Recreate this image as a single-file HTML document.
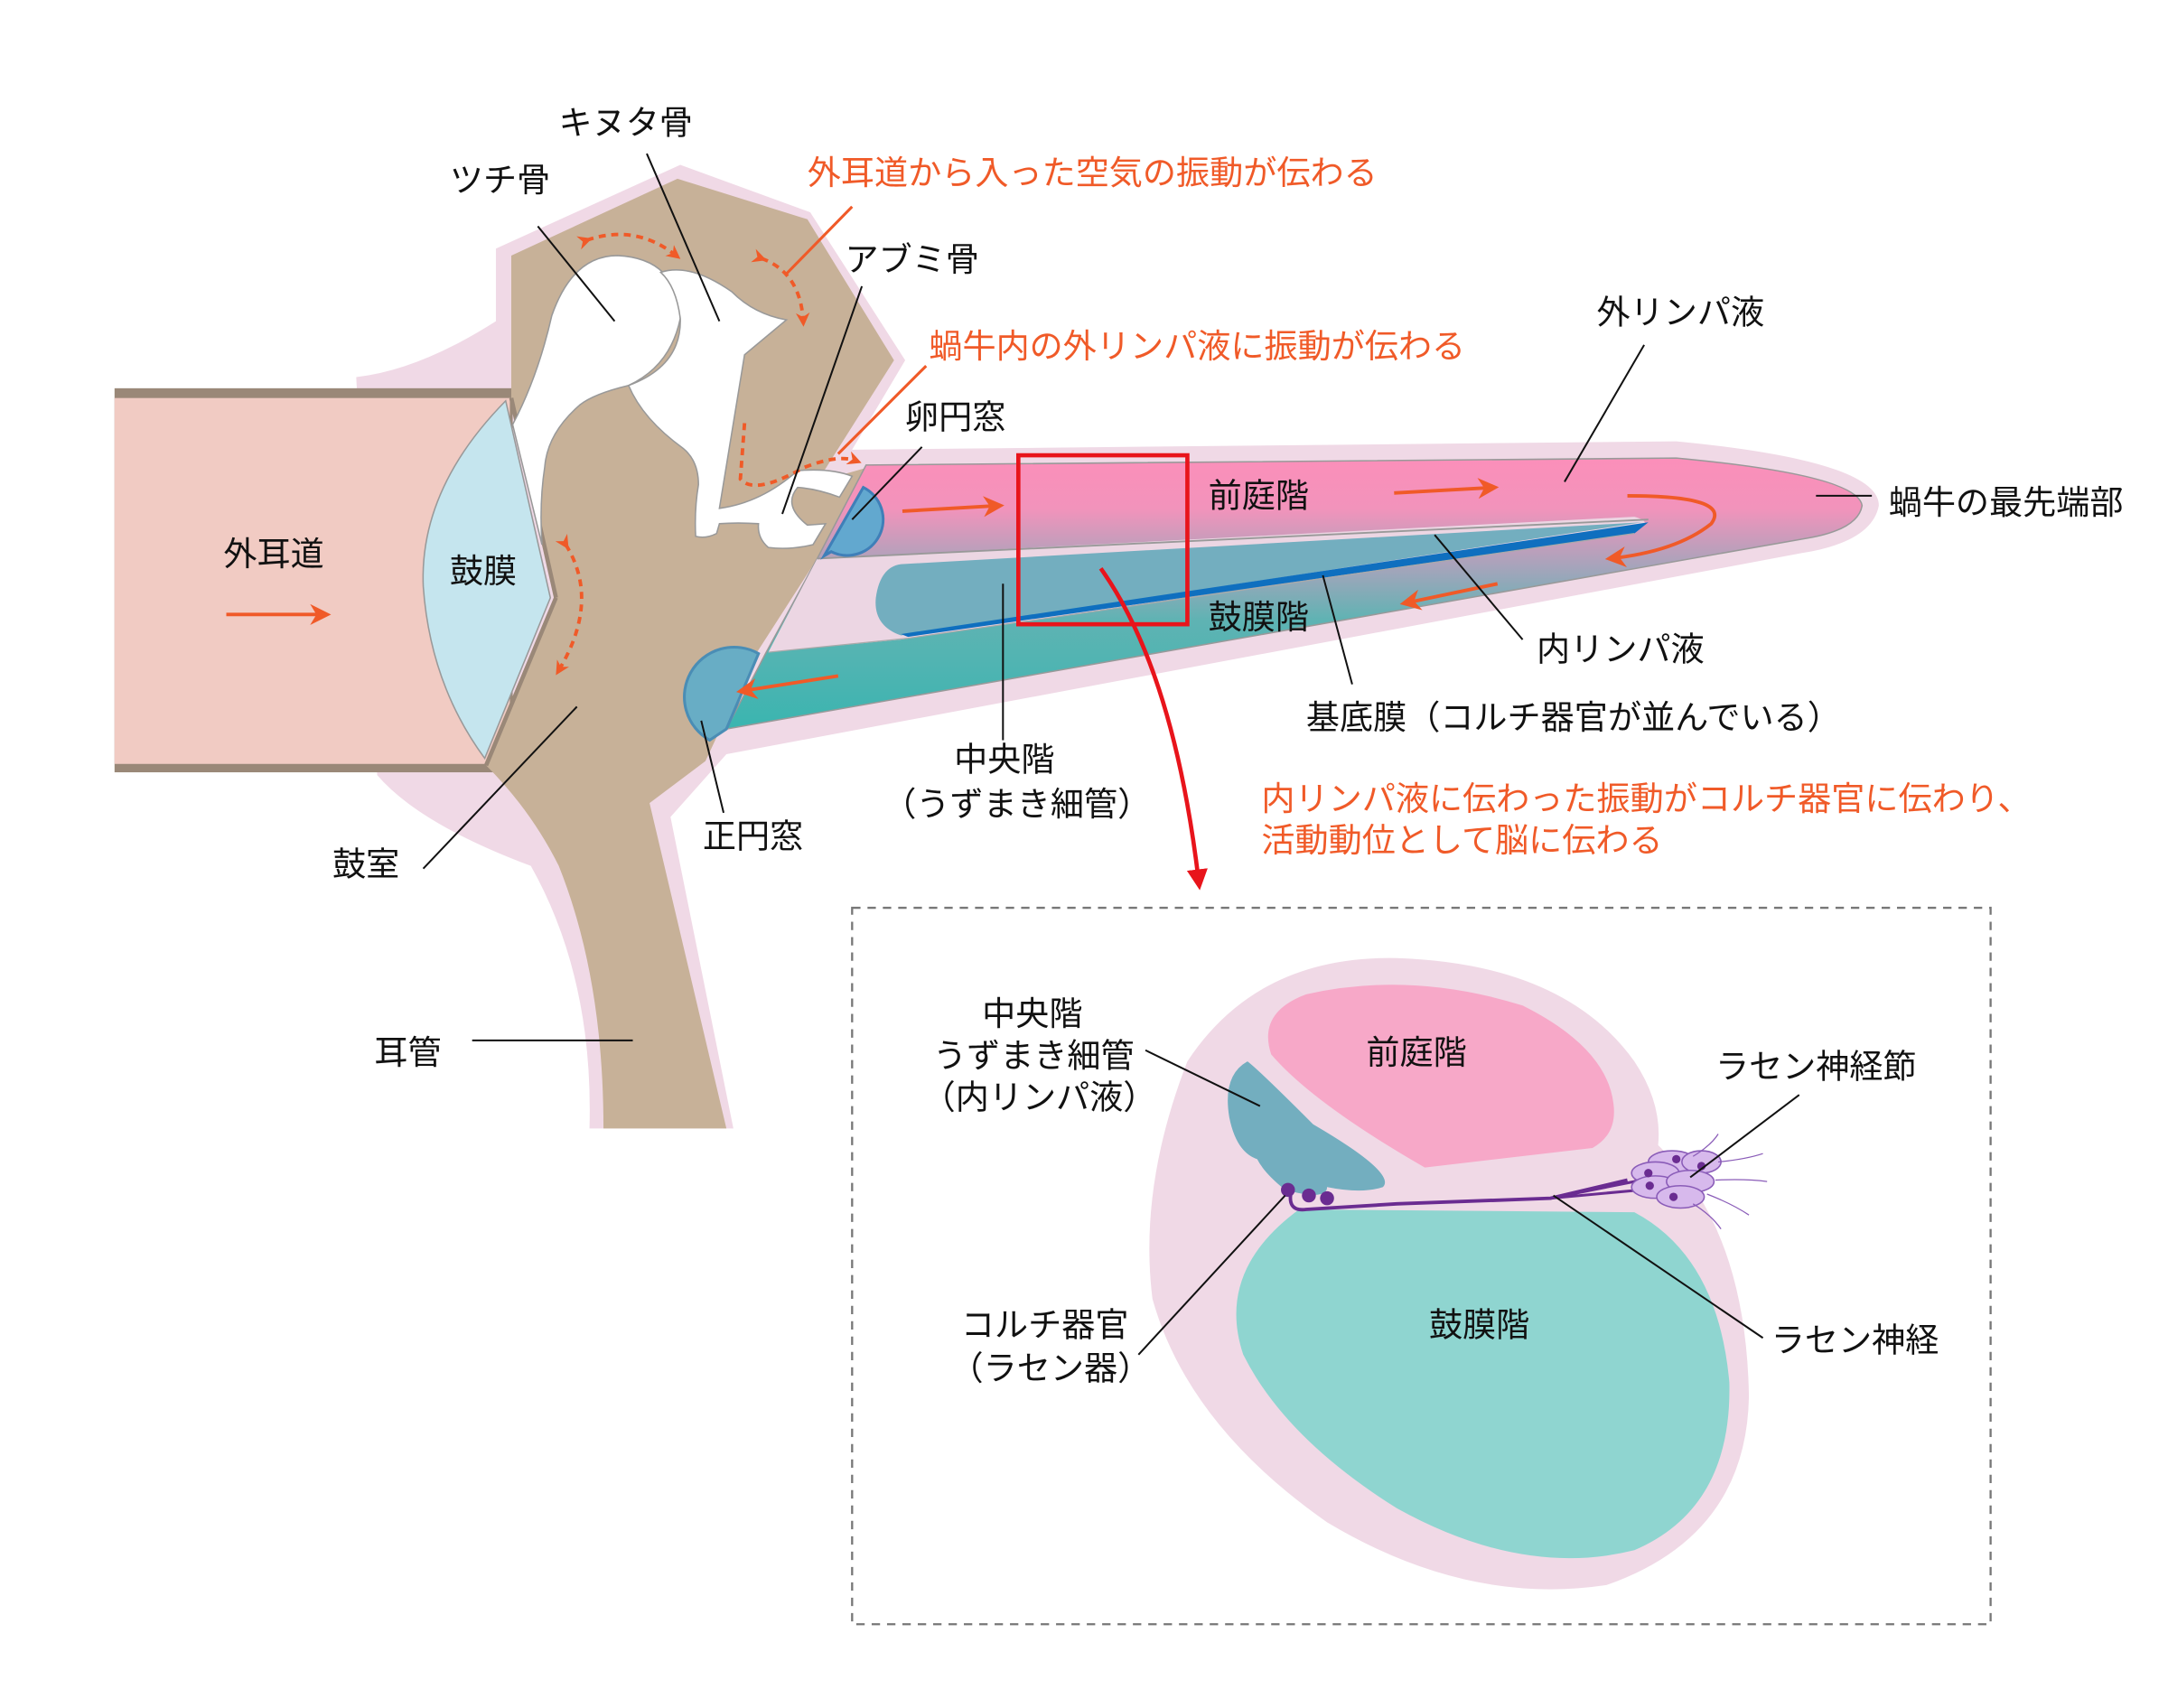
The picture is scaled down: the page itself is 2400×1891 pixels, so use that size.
<!DOCTYPE html>
<html><head><meta charset="utf-8"><style>
html,body{margin:0;padding:0;background:#fff}
svg{display:block}
text{font-family:"Liberation Sans","Noto Sans CJK JP",sans-serif;font-size:24px;fill:#111}
.o{fill:#f05a28}
</style></head><body>
<svg width="2400" height="1891" viewBox="0 0 1552 1223" preserveAspectRatio="none" xmlns="http://www.w3.org/2000/svg">
<defs>
<linearGradient id="lg" x1="0" y1="330" x2="0" y2="520" gradientUnits="userSpaceOnUse">
<stop offset="0" stop-color="#fb8fba"/><stop offset="0.18" stop-color="#f293bb"/>
<stop offset="0.4" stop-color="#a6a4bb"/><stop offset="0.6" stop-color="#5fb3b3"/>
<stop offset="1" stop-color="#3bb5b0"/></linearGradient>
<marker id="ah" viewBox="0 0 10 10" refX="8" refY="5" markerWidth="6" markerHeight="6" orient="auto"><path d="M0,0 L10,5 L0,10 L3,5Z" fill="#f05a28"/></marker>
<marker id="ahs" viewBox="0 0 10 10" refX="6" refY="5" markerWidth="4" markerHeight="4" orient="auto"><path d="M0,0 L10,5 L0,10 L3,5Z" fill="#f05a28"/></marker>
<marker id="ahr" viewBox="0 0 10 10" refX="5" refY="5" markerWidth="5" markerHeight="5" orient="auto"><path d="M0,0 L10,5 L0,10 Z" fill="#e8141b"/></marker>
</defs>

<path d="M255,270 Q300,265 355,230 L355,178 L487,118 L580,152 L648,258 L610,322 L1200,316 Q1345,330 1345,362 Q1340,388 1290,396 L520,540 L480,585 L525,808 L422,808 Q425,700 380,620 Q300,590 270,555 Z" fill="#f0d9e6"/>

<rect x="82" y="278" width="285" height="275" fill="#9a8878"/>
<rect x="82" y="285" width="283" height="262" fill="#f1cbc3"/>

<path d="M366,183 L485,128 L578,157 L640,258 L585,345 L620,335 L585,400 L540,470 L505,545 L465,575 L520,808 L432,808 Q432,700 400,620 Q380,580 348,548 L398,428 L366,285 Z" fill="#c7b198"/>
<line x1="366" y1="285" x2="398" y2="428" stroke="#9a8878" stroke-width="3"/>
<line x1="398" y1="428" x2="348" y2="548" stroke="#9a8878" stroke-width="3"/>

<path d="M362,287 Q300,350 303,420 Q308,490 347,543 L394,428 Z" fill="#c5e5ee" stroke="#999" stroke-width="1"/>

<path d="M367,304 Q385,270 395,226 Q410,183 442,183 Q485,185 487,228 Q480,262 450,276 Q425,282 415,290 Q392,310 390,334 Q386,360 388,390 Z" fill="#fff" stroke="#999" stroke-width="1"/>
<path d="M473,195 Q494,188 524,209 Q540,225 563,229 L533,254 L515,364 Q545,360 571,337 Q595,335 610,341 L601,356 Q585,350 571,349 Q560,362 578,376 L591,375 L582,390 Q565,394 550,392 Q542,385 543,375 Q528,374 515,375 L513,382 Q505,386 498,384 Q497,365 500,347 Q500,330 489,321 Q460,300 450,276 Q488,262 487,228 Q484,205 473,195 Z" fill="#fff" stroke="#999" stroke-width="1"/>

<!-- cochlea -->
<path d="M620,333 L1200,328 Q1330,340 1333,362 Q1330,380 1290,386 L520,522 L548,468 L585,400 Z" fill="url(#lg)" stroke="#999" stroke-width="1"/>
<path d="M585,400 L1170,370 Q1185,374 1170,380 L645,458 L550,467 Z" fill="#ecd6e3"/>
<path d="M645,404 L1175,374 L645,455 Q625,448 627,428 Q630,406 645,404 Z" fill="#73aebf"/>
<path d="M645,454 L1180,374 L1170,382 L650,456 Z" fill="#0f6fbf"/>
<line x1="585" y1="400" x2="1180" y2="372" stroke="#999" stroke-width="1.2"/>
<path d="M550,467 L650,457 L1170,382" fill="none" stroke="#aaa" stroke-width="0.8"/>

<path d="M618,349 A25,25 0 0 1 595,395 L590,398 L618,349 Z" fill="#62a8cf" stroke="#3f7fb8" stroke-width="2"/>
<path d="M543,468 A28,28 0 0 0 508,530 L520,522 Z" fill="#68adc5" stroke="#4a8db5" stroke-width="2"/>

<g stroke="#f05a28" stroke-width="2.5" fill="none">
<line x1="162" y1="440" x2="234" y2="440" marker-end="url(#ah)"/>
<line x1="646" y1="366" x2="716" y2="362" marker-end="url(#ah)"/>
<line x1="998" y1="353" x2="1070" y2="349" marker-end="url(#ah)"/>
<path d="M1165,355 Q1240,355 1225,375 Q1200,395 1152,400" marker-end="url(#ah)"/>
<line x1="1072" y1="418" x2="1005" y2="432" marker-end="url(#ah)"/>
<line x1="600" y1="484" x2="530" y2="495" marker-end="url(#ah)"/>
<line x1="610" y1="148" x2="563" y2="196" stroke-width="2"/>
<line x1="663" y1="262" x2="600" y2="325" stroke-width="2"/>
</g>
<g stroke="#f05a28" stroke-width="2.5" fill="none" stroke-dasharray="5,4">
<path d="M420,172 Q455,160 484,183" marker-end="url(#ahs)" marker-start="url(#ahs)"/>
<path d="M545,185 Q573,195 575,230" marker-end="url(#ahs)" marker-start="url(#ahs)"/>
<path d="M533,303 L530,343 Q540,355 575,335 Q600,325 613,330" marker-end="url(#ahs)"/>
<path d="M405,390 Q430,430 400,480" marker-end="url(#ahs)" marker-start="url(#ahs)"/>
</g>

<rect x="729" y="326" width="121" height="121" fill="none" stroke="#e8141b" stroke-width="3"/>
<path d="M788,407 Q840,480 858,630" fill="none" stroke="#e8141b" stroke-width="3" marker-end="url(#ahr)"/>

<g stroke="#111" stroke-width="1.3">
<line x1="385" y1="162" x2="440" y2="230"/>
<line x1="463" y1="110" x2="515" y2="230"/>
<line x1="617" y1="205" x2="560" y2="368"/>
<line x1="660" y1="320" x2="610" y2="372"/>
<line x1="1177" y1="247" x2="1120" y2="345"/>
<line x1="1300" y1="355" x2="1340" y2="355"/>
<line x1="1027" y1="383" x2="1090" y2="458"/>
<line x1="947" y1="412" x2="968" y2="490"/>
<line x1="718" y1="418" x2="718" y2="530"/>
<line x1="502" y1="516" x2="518" y2="582"/>
<line x1="413" y1="506" x2="303" y2="622"/>
<line x1="338" y1="745" x2="453" y2="745"/>
</g>

<rect x="610" y="650" width="815" height="513" fill="none" stroke="#777" stroke-width="1.5" stroke-dasharray="6,5"/>

<path d="M1000,686 Q1120,690 1170,760 Q1190,790 1187,820 Q1250,880 1252,1000 Q1250,1100 1150,1135 Q1050,1150 950,1090 Q850,1020 825,930 Q815,850 850,760 Q900,684 1000,686 Z" fill="#f0d9e6"/>
<path d="M935,712 Q1010,695 1090,720 Q1150,750 1155,790 Q1158,812 1140,822 L1020,836 Q940,790 910,755 Q900,725 935,712 Z" fill="#f7a8c8"/>
<path d="M930,866 L1170,868 Q1230,900 1238,990 Q1240,1080 1170,1110 Q1090,1130 1000,1080 Q920,1030 890,970 Q870,910 930,866 Z" fill="#8fd5d0"/>
<path d="M893,760 Q900,765 940,805 Q1000,840 990,850 Q975,855 950,850 Q950,860 920,852 Q905,840 900,830 Q885,825 880,800 Q875,770 893,760 Z" fill="#73aebf"/>
<path d="M925,850 Q920,868 935,866 L1000,862 L1110,858 L1165,845" fill="none" stroke="#6a2c91" stroke-width="2.5"/>
<path d="M1110,858 L1170,846 L1185,840 M1110,858 L1175,852" fill="none" stroke="#6a2c91" stroke-width="2"/>
<g fill="#6a2c91"><circle cx="922" cy="852" r="5"/><circle cx="937" cy="856" r="5"/><circle cx="950" cy="858" r="5"/></g>
<g fill="#d7b9ec" stroke="#8a5cb8" stroke-width="1">
<ellipse cx="1197" cy="832" rx="17" ry="8"/><ellipse cx="1218" cy="832" rx="14" ry="8"/>
<ellipse cx="1185" cy="840" rx="17" ry="8"/><ellipse cx="1185" cy="850" rx="17" ry="8"/>
<ellipse cx="1210" cy="846" rx="17" ry="8"/><ellipse cx="1203" cy="857" rx="17" ry="8"/>
</g>
<g fill="#6a2c91"><circle cx="1180" cy="840" r="3"/><circle cx="1181" cy="849" r="3"/><circle cx="1200" cy="830" r="3"/><circle cx="1218" cy="835" r="3"/><circle cx="1198" cy="857" r="3"/></g>
<g stroke="#8a5cb8" stroke-width="0.8" fill="none">
<path d="M1212,828 Q1225,820 1230,812"/><path d="M1230,832 Q1250,830 1262,826"/><path d="M1228,845 Q1250,844 1265,846"/>
<path d="M1222,855 Q1240,862 1252,870"/><path d="M1212,862 Q1225,870 1232,880"/>
</g>
<g stroke="#111" stroke-width="1.3">
<line x1="820" y1="752" x2="902" y2="792"/>
<line x1="1288" y1="784" x2="1210" y2="843"/>
<line x1="815" y1="970" x2="920" y2="856"/>
<line x1="1112" y1="856" x2="1262" y2="958"/>
</g>

<text x="400" y="96">キヌタ骨</text>
<text x="322" y="137">ツチ骨</text>
<text class="o" x="578" y="132">外耳道から入った空気の振動が伝わる</text>
<text x="605" y="194">アブミ骨</text>
<text class="o" x="665" y="256">蝸牛内の外リンパ液に振動が伝わる</text>
<text x="648" y="307">卵円窓</text>
<text x="1143" y="232">外リンパ液</text>
<text x="865" y="363">前庭階</text>
<text x="1352" y="368">蝸牛の最先端部</text>
<text x="160" y="405">外耳道</text>
<text x="322" y="417">鼓膜</text>
<text x="865" y="450">鼓膜階</text>
<text x="1100" y="473">内リンパ液</text>
<text x="935" y="522">基底膜（コルチ器官が並んでいる）</text>
<text x="683" y="552">中央階</text>
<text x="632" y="584">（うずまき細管）</text>
<text class="o" x="903" y="580">内リンパ液に伝わった振動がコルチ器官に伝わり、</text>
<text class="o" x="903" y="610">活動動位として脳に伝わる</text>
<text x="503" y="607">正円窓</text>
<text x="238" y="627">鼓室</text>
<text x="268" y="762">耳管</text>
<text x="703" y="734">中央階</text>
<text x="668" y="764">うずまき細管</text>
<text x="660" y="794">（内リンパ液）</text>
<text x="978" y="762">前庭階</text>
<text x="1228" y="772">ラセン神経節</text>
<text x="688" y="957">コルチ器官</text>
<text x="680" y="988">（ラセン器）</text>
<text x="1023" y="957">鼓膜階</text>
<text x="1268" y="968">ラセン神経</text>
</svg>
</body></html>
